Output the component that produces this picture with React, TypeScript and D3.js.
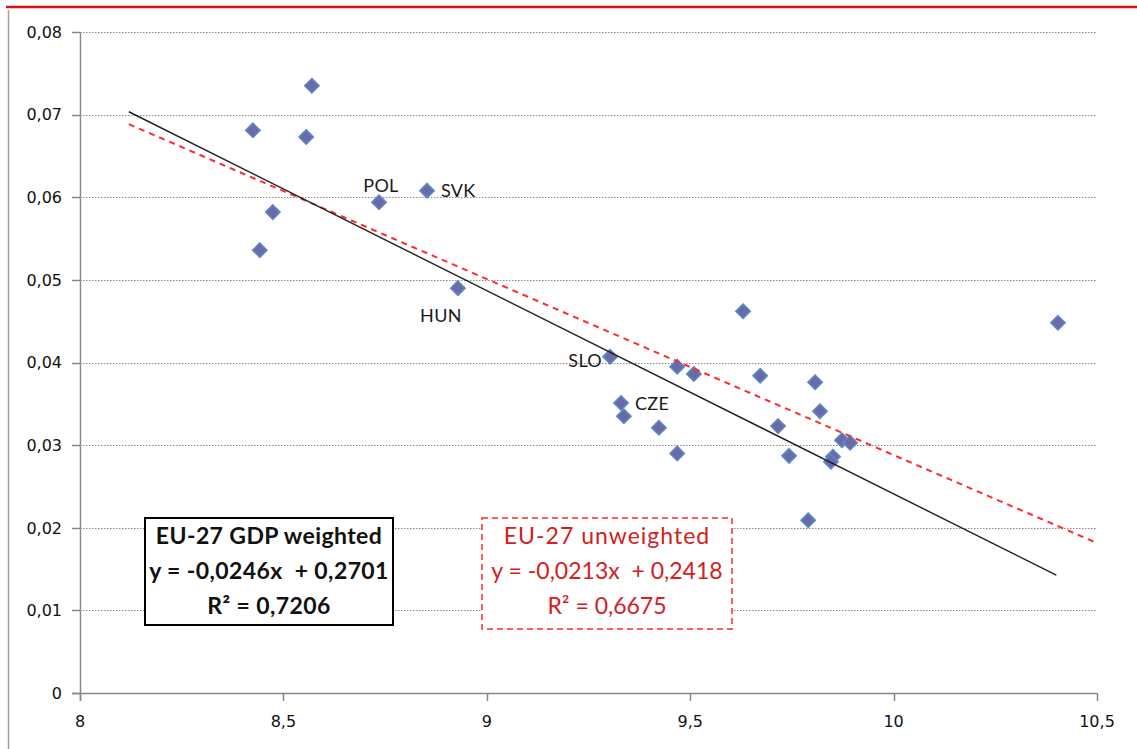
import React, { useEffect, useRef } from 'react';
import * as d3 from 'd3';

// x = log GDP per capita, y = growth rate (EU-27 members)
const xValues = [
  8.425, 8.570, 8.556, 8.474, 8.442, 8.735, 8.853, 8.929, 9.303, 9.330,
  9.337, 9.423, 9.468, 9.468, 9.509, 9.630, 9.672, 9.716, 9.743, 9.807,
  9.819, 9.790, 9.873, 9.893, 9.851, 9.846, 10.404,
];
const yValues = [
  0.0681, 0.0735, 0.0673, 0.0582, 0.0536, 0.0594, 0.0608, 0.0490, 0.0407, 0.0351,
  0.0335, 0.0321, 0.0290, 0.0395, 0.0386, 0.0462, 0.0384, 0.0323, 0.0287, 0.0376,
  0.0341, 0.0209, 0.0306, 0.0303, 0.0286, 0.0280, 0.0448,
];
const pointLabels = ['', '', '', '', '', 'POL', 'SVK', 'HUN', 'SLO', 'CZE'];

const xTicks = [8, 8.5, 9, 9.5, 10, 10.5];
const yTicks = [0, 0.01, 0.02, 0.03, 0.04, 0.05, 0.06, 0.07, 0.08];

const weightedFit = { slope: -0.0246, intercept: 0.2701, r2: 0.7206, from: 8.12, to: 10.4 };
const unweightedFit = { slope: -0.0213, intercept: 0.2418, r2: 0.6675, from: 8.12, to: 10.5 };

const comma = (v: number, digits: number) => v.toFixed(digits).replace('.', ',');

const App = () => {
  const svgRef = useRef<SVGSVGElement>(null);

  useEffect(() => {
    document.body.style.margin = '0';
    const svg = d3.select(svgRef.current);
    svg.selectAll('*').remove();

    const width = 1137, height = 749;
    const x = d3.scaleLinear().domain([8, 10.5]).range([80, 1097]);
    const y = d3.scaleLinear().domain([0, 0.08]).range([693, 32]);
    const tickFont = '"DejaVu Sans", sans-serif';
    const textFont = 'Lato, "Open Sans", sans-serif';

    // outer frame of the pasted chart
    svg.append('rect').attr('width', width).attr('height', height).attr('fill', '#fff');
    svg.append('line')
      .attr('x1', 6).attr('x2', width).attr('y1', 7).attr('y2', 7)
      .attr('stroke', '#e01010').attr('stroke-width', 2.5);
    svg.append('line')
      .attr('x1', 8.5).attr('x2', 8.5).attr('y1', 10).attr('y2', height)
      .attr('stroke', '#a0a0a0').attr('stroke-width', 1.5);

    // grid
    svg.append('g')
      .selectAll('line')
      .data(yTicks.filter((t) => t > 0))
      .enter()
      .append('line')
      .attr('x1', x(8)).attr('x2', x(10.5))
      .attr('y1', (d) => Math.round(y(d)) + 0.5).attr('y2', (d) => Math.round(y(d)) + 0.5)
      .attr('stroke', '#8a8a8a').attr('stroke-width', 1).attr('stroke-dasharray', '1.5,1.5');

    // y axis
    const yAxis = svg.append('g');
    yAxis.append('line')
      .attr('x1', 80.5).attr('x2', 80.5).attr('y1', y(0.08)).attr('y2', y(0) + 8)
      .attr('stroke', '#888').attr('stroke-width', 1.5);
    yAxis.selectAll('line.tick')
      .data(yTicks)
      .enter()
      .append('line')
      .attr('class', 'tick')
      .attr('x1', 72).attr('x2', 80)
      .attr('y1', (d) => Math.round(y(d)) + 0.5).attr('y2', (d) => Math.round(y(d)) + 0.5)
      .attr('stroke', '#888').attr('stroke-width', 1.5);
    yAxis.selectAll('text')
      .data(yTicks)
      .enter()
      .append('text')
      .attr('x', 62)
      .attr('y', (d) => y(d))
      .attr('dy', '0.36em')
      .attr('text-anchor', 'end')
      .style('font-family', tickFont)
      .style('font-size', '16px')
      .attr('fill', '#111')
      .text((d) => (d === 0 ? '0' : comma(d, 2)));

    // x axis
    const xAxis = svg.append('g');
    xAxis.append('line')
      .attr('x1', 72).attr('x2', x(10.5)).attr('y1', 693.5).attr('y2', 693.5)
      .attr('stroke', '#888').attr('stroke-width', 1.5);
    xAxis.selectAll('line.tick')
      .data(xTicks)
      .enter()
      .append('line')
      .attr('class', 'tick')
      .attr('x1', (d) => Math.round(x(d)) + 0.5).attr('x2', (d) => Math.round(x(d)) + 0.5)
      .attr('y1', 693).attr('y2', 701)
      .attr('stroke', '#888').attr('stroke-width', 1.5);
    xAxis.selectAll('text')
      .data(xTicks)
      .enter()
      .append('text')
      .attr('x', (d) => x(d))
      .attr('y', 721)
      .attr('dy', '0.36em')
      .attr('text-anchor', 'middle')
      .style('font-family', tickFont)
      .style('font-size', '16px')
      .attr('fill', '#111')
      .text((d) => (Number.isInteger(d) ? String(d) : comma(d, 1)));

    // points
    const diamond = d3.symbol().type(d3.symbolDiamond2).size(130);
    svg.append('g')
      .selectAll('path')
      .data(xValues.map((v, i) => [v, yValues[i]]))
      .enter()
      .append('path')
      .attr('d', diamond)
      .attr('transform', (d) => `translate(${x(d[0])},${y(d[1])})`)
      .attr('fill', '#6a6aa6')
      .attr('stroke', '#5d86c8')
      .attr('stroke-width', 1.6);

    // trend lines
    const line = d3.line<number>().x((d) => x(d)).y((d) => y(d));
    const fitLine = (f: typeof weightedFit) =>
      line.y((d) => y(f.slope * d + f.intercept))([f.from, f.to]);
    svg.append('path')
      .attr('d', fitLine(unweightedFit))
      .attr('fill', 'none')
      .attr('stroke', '#ff2a2a')
      .attr('stroke-width', 2)
      .attr('stroke-dasharray', '6,5');
    svg.append('path')
      .attr('d', fitLine(weightedFit))
      .attr('fill', 'none')
      .attr('stroke', '#1e1e1e')
      .attr('stroke-width', 1.4);

    // country labels
    const labelOffsets: Record<string, [number, number, string]> = {
      POL: [2, -17, 'middle'],
      SVK: [14, 0, 'start'],
      HUN: [-17, 28, 'middle'],
      SLO: [-8, 4, 'end'],
      CZE: [14, 1, 'start'],
    };
    svg.append('g')
      .selectAll('text')
      .data(pointLabels.map((name, i) => ({ name, i })).filter((d) => d.name))
      .enter()
      .append('text')
      .attr('x', (d) => x(xValues[d.i]) + labelOffsets[d.name][0])
      .attr('y', (d) => y(yValues[d.i]) + labelOffsets[d.name][1])
      .attr('dy', '0.35em')
      .attr('text-anchor', (d) => labelOffsets[d.name][2])
      .style('font-family', textFont)
      .style('font-size', '18px')
      .style('letter-spacing', '0.3px')
      .attr('fill', '#1a1a1a')
      .text((d) => d.name);

    // equation boxes
    const box = (
      fit: typeof weightedFit, title: string, x0: number, y0: number, w: number, h: number,
      color: string, dashed: boolean, weight: string, spacing: string[],
    ) => {
      const g = svg.append('g');
      g.append('rect')
        .attr('x', x0).attr('y', y0).attr('width', w).attr('height', h)
        .attr('fill', '#fff')
        .attr('stroke', color)
        .attr('stroke-width', dashed ? 1.5 : 2)
        .attr('stroke-dasharray', dashed ? '6,4' : null);
      const lines = [
        title,
        `y = ${comma(fit.slope, 4)}x  + ${comma(fit.intercept, 4)}`,
        `R² = ${comma(fit.r2, 4)}`,
      ];
      g.selectAll('text')
        .data(lines)
        .enter()
        .append('text')
        .attr('x', x0 + w / 2)
        .attr('y', (_, i) => y0 + 18 + i * 35)
        .attr('dy', '0.35em')
        .attr('text-anchor', 'middle')
        .style('font-family', textFont)
        .style('font-size', '23px')
        .style('font-weight', weight)
        .style('letter-spacing', (_, i) => spacing[i])
        .style('white-space', 'pre')
        .attr('fill', color === '#000' ? '#111' : '#d42020')
        .text((d) => d);
    };
    box(weightedFit, 'EU-27 GDP weighted', 145, 518, 248, 107, '#000', false, 'bold',
      ['0.4px', '0.4px', '0.4px']);
    box(unweightedFit, 'EU-27 unweighted', 482, 518, 250, 111, '#ff2a2a', true, 'normal',
      ['1px', '0px', '0px']);
  }, []);

  return <svg ref={svgRef} width={1137} height={749} style={{ display: 'block' }} />;
};

export default App;
